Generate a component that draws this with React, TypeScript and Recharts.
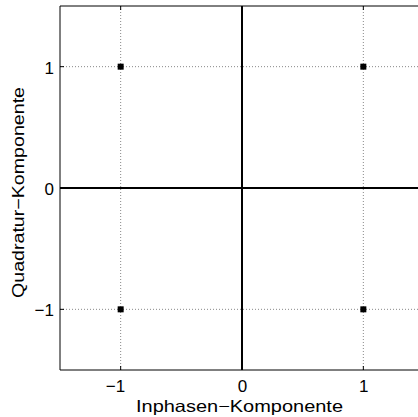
import React from 'react';
import { ScatterChart, Scatter, XAxis, YAxis, CartesianGrid, ReferenceLine } from 'recharts';

const pointsI = [-1, 1, -1, 1];
const pointsQ = [1, 1, -1, -1];
const xTicks = [-1, 0, 1];
const yTicks = [-1, 0, 1];
const xDomain = [-1.5, 1.4505];
const yDomain = [-1.5, 1.5];
const xLabel = 'Inphasen\u2212Komponente';
const yLabel = 'Quadratur\u2212Komponente';

const data = pointsI.map((x, i) => ({ x, y: pointsQ[i] }));

const FONT = '"Liberation Sans", Arial, Helvetica, sans-serif';
const fmt = (v: number) => String(v).replace('-', '\u2212');

const PLOT_TOP = 6;
const PLOT_BOTTOM = 370;
const PLOT_LEFT = 60;

const XTick = (props: any) => {
  const { x, payload } = props;
  const neg = payload.value < 0;
  return (
    <g>
      <line x1={x} x2={x} y1={PLOT_BOTTOM} y2={PLOT_BOTTOM - 4} stroke="#000" strokeWidth={1} />
      <line x1={x} x2={x} y1={PLOT_TOP} y2={PLOT_TOP + 4} stroke="#000" strokeWidth={1} />
      <text
        x={neg ? x + 4.5 : x + 0.5}
        y={392}
        textAnchor={neg ? 'end' : 'middle'}
        fontFamily={FONT}
        fontSize={17}
        fill="#000"
      >
        {fmt(payload.value)}
      </text>
    </g>
  );
};

const YTick = (props: any) => {
  const { y, payload } = props;
  return (
    <g>
      <line x1={PLOT_LEFT} x2={PLOT_LEFT + 4} y1={y} y2={y} stroke="#000" strokeWidth={1} />
      <text x={54} y={y + 7} textAnchor="end" fontFamily={FONT} fontSize={17} fill="#000">
        {fmt(payload.value)}
      </text>
    </g>
  );
};

const Square = (props: any) => {
  const { cx, cy } = props;
  return <rect x={cx - 3} y={cy - 3} width={6} height={6} fill="#000" />;
};

export default function App() {
  return (
    <div style={{ position: 'absolute', left: 0, top: 0, width: 418, height: 417, background: '#fff' }}>
      <ScatterChart width={418} height={417} margin={{ top: 6, right: 0, bottom: 0, left: 0 }}>
        <CartesianGrid stroke="#888" strokeDasharray="1 2" horizontalValues={yTicks} verticalValues={xTicks} />
        <XAxis
          type="number"
          dataKey="x"
          domain={xDomain}
          ticks={xTicks}
          allowDataOverflow
          height={47}
          axisLine={{ stroke: '#000', strokeWidth: 1 }}
          tickLine={false}
          tick={<XTick />}
          interval={0}
          label={{
            content: () => (
              <text
                x={136}
                y={412}
                textAnchor="start"
                fontFamily={FONT}
                fontSize={16.5}
                fill="#000"
                textLength={207}
                lengthAdjust="spacingAndGlyphs"
              >
                {xLabel}
              </text>
            ),
          }}
        />
        <YAxis
          type="number"
          dataKey="y"
          domain={yDomain}
          ticks={yTicks}
          allowDataOverflow
          width={60}
          axisLine={{ stroke: '#000', strokeWidth: 1 }}
          tickLine={false}
          tick={<YTick />}
          interval={0}
          label={{
            content: () => (
              <text
                x={24}
                y={298}
                textAnchor="start"
                fontFamily={FONT}
                fontSize={16.5}
                fill="#000"
                textLength={211}
                lengthAdjust="spacingAndGlyphs"
                transform="rotate(-90 24 298)"
              >
                {yLabel}
              </text>
            ),
          }}
        />
        <ReferenceLine y={1.5} stroke="#000" strokeWidth={1} />
        <ReferenceLine x={0} stroke="#000" strokeWidth={2} />
        <ReferenceLine y={0} stroke="#000" strokeWidth={2} />
        <Scatter data={data} shape={<Square />} isAnimationActive={false} />
      </ScatterChart>
      <div style={{ position: 'absolute', left: 395, top: 372, width: 23, height: 45, background: '#fff' }} />
    </div>
  );
}
